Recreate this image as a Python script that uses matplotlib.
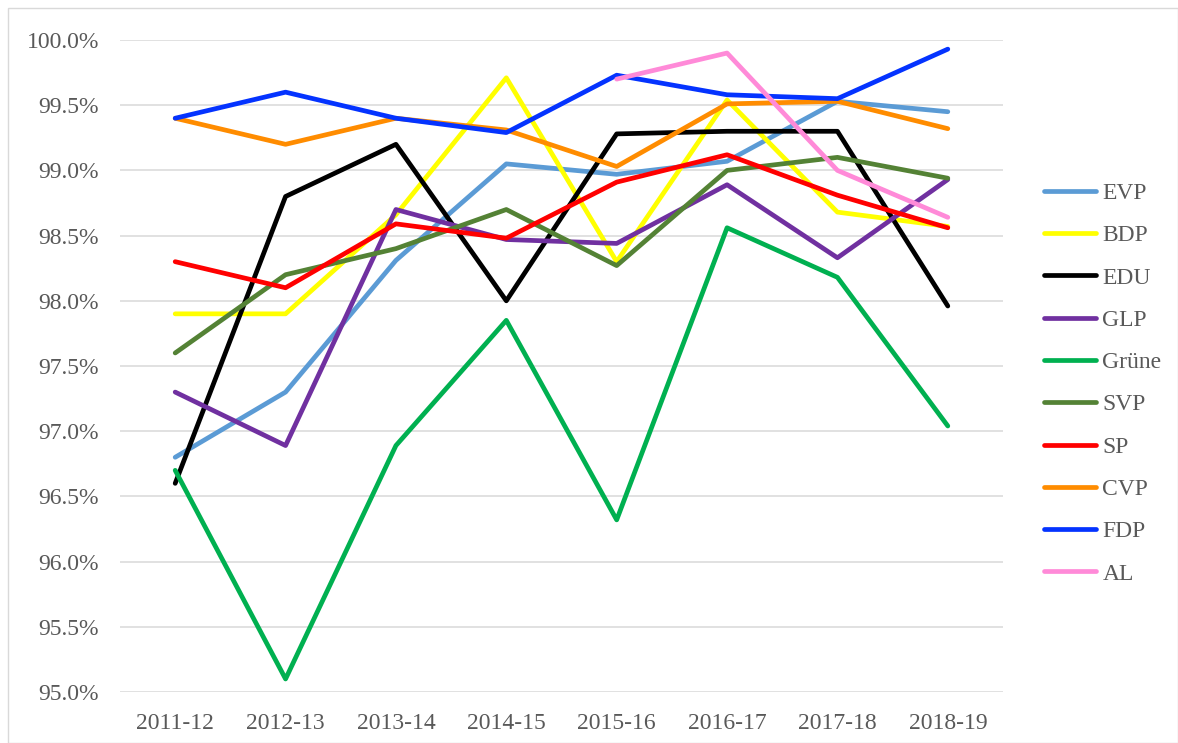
"""Attendance rate per party and session, 2011-12 to 2018-19"""
import numpy as np
import matplotlib.pyplot as plt
from matplotlib.patches import Rectangle
from matplotlib.ticker import FuncFormatter

YEARS = ["2011-12", "2012-13", "2013-14", "2014-15",
         "2015-16", "2016-17", "2017-18", "2018-19"]

EVP = [96.80, 97.30, 98.31, 99.05, 98.97, 99.07, 99.53, 99.45]
BDP = [97.90, 97.90, 98.66, 99.71, 98.30, 99.54, 98.68, 98.57]
EDU = [96.60, 98.80, 99.20, 98.00, 99.28, 99.30, 99.30, 97.96]
GLP = [97.30, 96.89, 98.70, 98.47, 98.44, 98.89, 98.33, 98.93]
GRUENE = [96.70, 95.10, 96.89, 97.85, 96.32, 98.56, 98.18, 97.04]
SVP = [97.60, 98.20, 98.40, 98.70, 98.27, 99.00, 99.10, 98.94]
SP = [98.30, 98.10, 98.59, 98.48, 98.91, 99.12, 98.81, 98.56]
CVP = [99.40, 99.20, 99.40, 99.31, 99.03, 99.51, 99.53, 99.32]
FDP = [99.40, 99.60, 99.40, 99.29, 99.73, 99.58, 99.55, 99.93]
AL = [None, None, None, None, 99.70, 99.90, 99.00, 98.64]

SERIES = [
    ("EVP", EVP, "#5B9BD5"),
    ("BDP", BDP, "#FFFF00"),
    ("EDU", EDU, "#000000"),
    ("GLP", GLP, "#7030A0"),
    ("Grüne", GRUENE, "#00B050"),
    ("SVP", SVP, "#548235"),
    ("SP", SP, "#FF0000"),
    ("CVP", CVP, "#FF8C00"),
    ("FDP", FDP, "#0433FF"),
    ("AL", AL, "#FF8AD8"),
]

TEXT_COLOR = "#595959"
FONT_SIZE = 17
plt.rcParams["font.family"] = ["Liberation Serif", "DejaVu Serif"]

fig = plt.figure(figsize=(11.78, 7.43), dpi=100)
W, H = 1178, 743
ax = fig.add_axes([120 / W, 1 - 692 / H, (1003 - 120) / W, (692 - 40) / H])

x = np.arange(len(YEARS))
for name, vals, color in SERIES:
    y = np.array([np.nan if v is None else v for v in vals], dtype=float)
    ax.plot(x, y, color=color, lw=3.4, label=name,
            solid_capstyle="round", solid_joinstyle="round")

ax.set_xlim(-0.5, len(YEARS) - 0.5)
ax.set_ylim(95.0, 100.0)
ax.set_yticks(np.arange(95.0, 100.01, 0.5))
ax.yaxis.set_major_formatter(FuncFormatter(lambda v, _: f"{v:.1f}%"))
ax.set_xticks(x)
ax.set_xticklabels(YEARS)
ax.grid(axis="y", color="#D9D9D9", lw=1.1)
ax.set_axisbelow(True)
for s in ax.spines.values():
    s.set_visible(False)
ax.tick_params(length=0, labelsize=FONT_SIZE, colors=TEXT_COLOR, pad=15)

fig.legend(loc="upper left", bbox_to_anchor=(1035 / W, 1 - 173 / H),
           frameon=False, fontsize=FONT_SIZE, labelcolor=TEXT_COLOR,
           handlelength=2.2, handletextpad=0.25, labelspacing=0.88,
           borderaxespad=0)

fig.patches.append(Rectangle((8 / W, 0), 1 - 8 / W, 1 - 8 / H,
                             transform=fig.transFigure, fill=False,
                             edgecolor="#D9D9D9", lw=1.0))

fig.savefig("out.png", dpi=100)
